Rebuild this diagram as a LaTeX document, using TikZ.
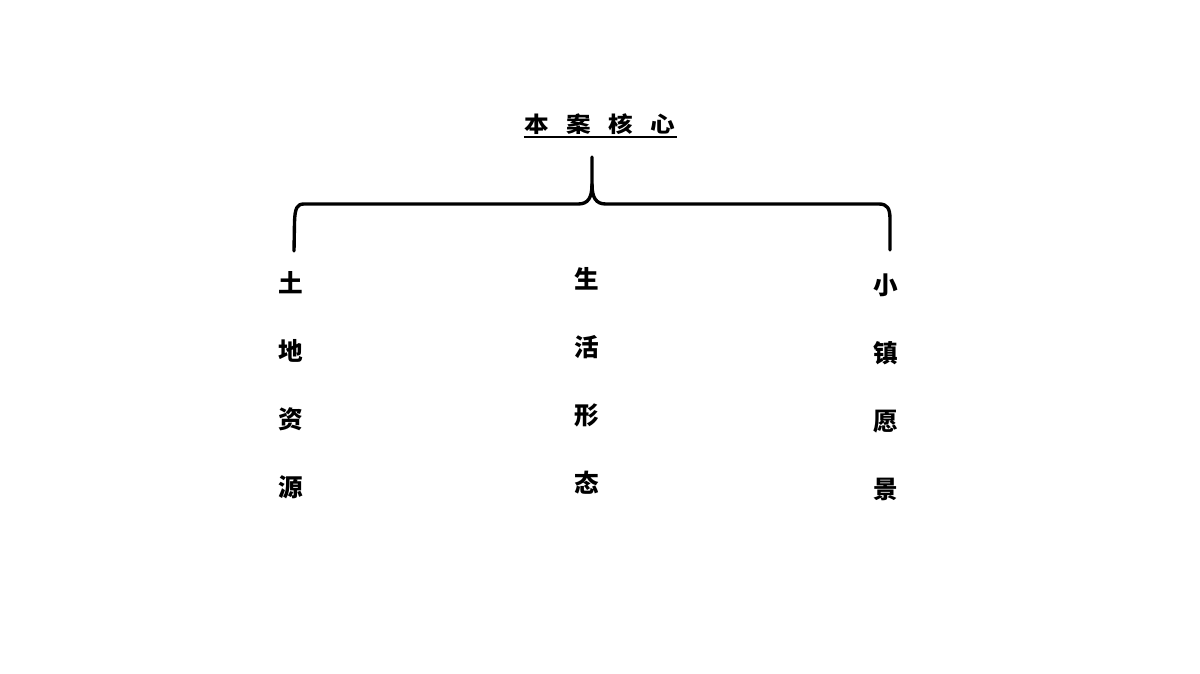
\documentclass[tikz,border=0pt]{standalone}
\usepackage{fontspec}
\newfontfamily\cjk{Noto Sans CJK SC}
\usetikzlibrary{positioning}

\begin{document}
\begin{tikzpicture}[
		x=0.025cm, y=-0.025cm,
		head/.style={font={\cjk\bfseries\fontsize{17.5}{20}\selectfont}, inner sep=0pt},
		cnode/.style={font={\cjk\bfseries\fontsize{17.5}{48.4}\selectfont}, align=center, inner sep=0pt},
		brace/.style={line width=2.4pt, line join=round, line cap=round},
		uline/.style={line width=1pt},
	]

	\useasboundingbox (0, 0) rectangle (1200, 673);

	\node[head] (core) at (600, 124) {\scalebox{1}[0.88]{本\hspace{0.7em}案\hspace{0.7em}核\hspace{0.7em}心}};
	\draw[uline] ([xshift=-0.5pt, yshift=-1.6pt]core.south west) -- ([xshift=1pt, yshift=-1.6pt]core.south east);

	\coordinate (tip) at (592, 157);
	\coordinate (lend) at (294, 251);
	\coordinate (rend) at (890, 250);

	\draw[brace] (lend) -- (294.5, 222) .. controls (295, 208) and (297, 204) .. (304, 204) -- (578, 204) .. controls (588, 204) and (592, 198) .. (592, 184) -- (tip);
	\draw[brace] (592, 184) .. controls (592, 198) and (596, 204) .. (606, 204) -- (879, 204) .. controls (887, 204) and (890, 208) .. (890, 219) -- (rend);

	\node[cnode] (land) at (291, 385) {土\\地\\资\\源};
	\node[cnode] (life) at (587, 381) {生\\活\\形\\态};
	\node[cnode] (town) at (886, 387) {小\\镇\\愿\\景};
\end{tikzpicture}
\end{document}
